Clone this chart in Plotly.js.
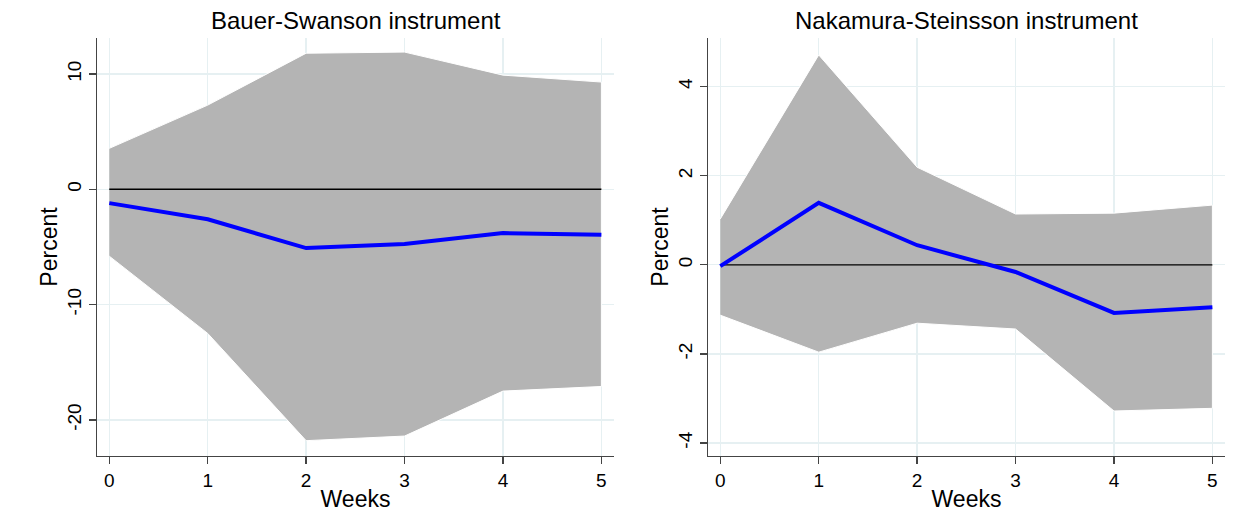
<!DOCTYPE html>
<html>
<head>
<meta charset="utf-8">
<script src="https://cdn.plot.ly/plotly-3.0.1.min.js"></script>
<style>
  html, body { margin: 0; padding: 0; background: #ffffff; }
  #chart { width: 1243px; height: 515px; }
</style>
</head>
<body>
<div id="chart"></div>
<script>
// Impulse responses by week, with confidence bands
const weeks = [0, 1, 2, 3, 4, 5];

// Bauer-Swanson instrument
const bsPoint = [-1.2, -2.6, -5.1, -4.75, -3.8, -3.95];
const bsUpper = [3.55, 7.3, 11.8, 11.9, 9.9, 9.3];
const bsLower = [-5.8, -12.5, -21.8, -21.4, -17.5, -17.1];

// Nakamura-Steinsson instrument
const nsPoint = [-0.03, 1.39, 0.44, -0.16, -1.08, -0.95];
const nsUpper = [1.03, 4.71, 2.19, 1.14, 1.16, 1.34];
const nsLower = [-1.13, -1.96, -1.31, -1.44, -3.28, -3.22];

const panelTitles = ["Bauer-Swanson instrument", "Nakamura-Steinsson instrument"];
const xTitle = "Weeks";
const yTitle = "Percent";

const FONT = "Liberation Sans, Arial, sans-serif";
const AXIS_COLOR = "#444444";
const GRID_COLOR = "#e6f0f2";
const BAND_COLOR = "#b4b4b4";

function bandTrace(lower, upper, xa, ya) {
  return {
    x: weeks.concat(weeks.slice().reverse()),
    y: upper.concat(lower.slice().reverse()),
    xaxis: xa, yaxis: ya,
    type: "scatter", mode: "lines",
    fill: "toself", fillcolor: BAND_COLOR,
    line: { color: "#ffffff", width: 1 },
    hoverinfo: "skip", showlegend: false
  };
}
function zeroTrace(xa, ya) {
  return {
    x: [weeks[0], weeks[weeks.length - 1]], y: [0, 0],
    xaxis: xa, yaxis: ya, type: "scatter", mode: "lines",
    line: { color: "#000000", width: 1.4 }, showlegend: false
  };
}
function pointTrace(vals, xa, ya) {
  return {
    x: weeks, y: vals, xaxis: xa, yaxis: ya,
    type: "scatter", mode: "lines",
    line: { color: "#0000ff", width: 4 }, showlegend: false
  };
}

const data = [
  bandTrace(bsLower, bsUpper, "x", "y"),
  zeroTrace("x", "y"),
  pointTrace(bsPoint, "x", "y"),
  bandTrace(nsLower, nsUpper, "x2", "y2"),
  zeroTrace("x2", "y2"),
  pointTrace(nsPoint, "x2", "y2")
];

function xAxis(domain, anchor) {
  return {
    domain: domain, anchor: anchor,
    range: [-0.125, 5.128],
    tickvals: weeks, ticktext: weeks.map(String),
    ticks: "outside", ticklen: 7, tickwidth: 1.3, tickcolor: AXIS_COLOR,
    showline: true, linecolor: AXIS_COLOR, linewidth: 1.3,
    showgrid: true, gridcolor: GRID_COLOR, gridwidth: 1.3,
    zeroline: false,
    tickfont: { family: FONT, size: 19, color: "#000" },
    title: { text: xTitle, font: { family: FONT, size: 23, color: "#000" }, standoff: 0 }
  };
}
function yAxis(domain, anchor, range, ticks) {
  return {
    domain: domain, anchor: anchor, range: range,
    tickvals: ticks, ticktext: ticks.map(String),
    tickangle: -90,
    ticks: "outside", ticklen: 7, tickwidth: 1.3, tickcolor: AXIS_COLOR,
    showline: true, linecolor: AXIS_COLOR, linewidth: 1.3,
    showgrid: true, gridcolor: GRID_COLOR, gridwidth: 1.3,
    zeroline: false,
    tickfont: { family: FONT, size: 19, color: "#000" },
    title: { text: yTitle, font: { family: FONT, size: 23, color: "#000" }, standoff: 0 }
  };
}

const yDom = [1 - 456 / 515, 1 - 38 / 515];
const layout = {
  width: 1243, height: 515,
  margin: { l: 0, r: 0, t: 0, b: 0 },
  paper_bgcolor: "#ffffff", plot_bgcolor: "#ffffff",
  showlegend: false,
  xaxis: xAxis([97 / 1243, 614 / 1243], "y"),
  yaxis: yAxis(yDom, "x", [-23.13, 13.12], [-20, -10, 0, 10]),
  xaxis2: xAxis([708 / 1243, 1225 / 1243], "y2"),
  yaxis2: yAxis(yDom, "x2", [-4.29, 5.09], [-4, -2, 0, 2, 4]),
  annotations: [
    { text: panelTitles[0], xref: "paper", yref: "paper",
      x: (97 + 614) / 2 / 1243, y: 1 - 21 / 515, xanchor: "center", yanchor: "middle",
      showarrow: false, font: { family: FONT, size: 24, color: "#000" } },
    { text: panelTitles[1], xref: "paper", yref: "paper",
      x: (708 + 1225) / 2 / 1243, y: 1 - 21 / 515, xanchor: "center", yanchor: "middle",
      showarrow: false, font: { family: FONT, size: 24, color: "#000" } }
  ]
};

Plotly.newPlot("chart", data, layout, { displayModeBar: false, staticPlot: true });
</script>
</body>
</html>
